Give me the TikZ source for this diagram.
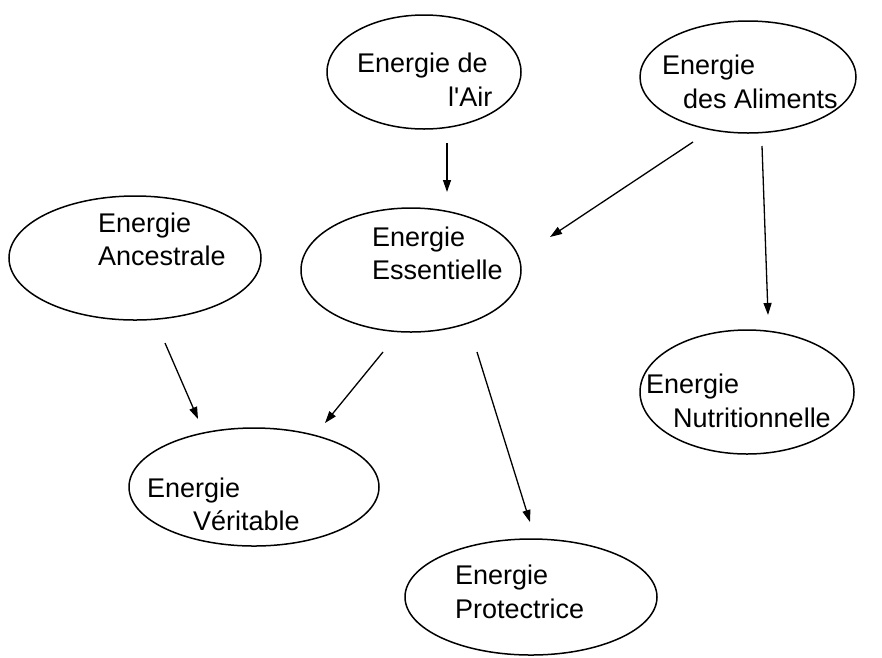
\documentclass[tikz,border=0pt]{standalone}
\usepackage{fontspec}
\setmainfont{Liberation Sans}[Ligatures=TeXOff]
\usetikzlibrary{shapes.geometric,arrows.meta}
\begin{document}
\begin{tikzpicture}[x=1pt,y=-1pt,
  energy/.style={draw,ellipse,line width=1.5pt,inner sep=0pt},
  lbl/.style={anchor=base west,inner sep=0pt,font=\fontsize{27}{33}\selectfont},
  flow/.style={line width=1.3pt,-{Triangle[length=12pt,width=8pt]}}]
\useasboundingbox (0,0) rectangle (882,657);
\fill[white] (0,0) rectangle (882,657);

% ellipses
\node[energy,minimum width=194pt,minimum height=114pt] (air)  at (424,72)  {};
\node[energy,minimum width=216pt,minimum height=112pt] (alim) at (748,77)  {};
\node[energy,minimum width=252pt,minimum height=124pt] (anc)  at (135,258) {};
\node[energy,minimum width=220pt,minimum height=124pt] (ess)  at (411,270) {};
\node[energy,minimum width=214pt,minimum height=124pt] (nutr) at (747,392) {};
\node[energy,minimum width=250pt,minimum height=118pt] (ver)  at (254,487) {};
\node[energy,minimum width=252pt,minimum height=116pt] (prot) at (531,597) {};

% labels
\node[lbl] (air1)  at (357,72)  {Energie de};
\node[lbl] (air2)  at (448,106) {l'Air};
\node[lbl] (alim1) at (662,74)  {Energie};
\node[lbl] (alim2) at (683,108) {des Aliments};
\node[lbl] (anc1)  at (98,232)  {Energie};
\node[lbl] (anc2)  at (98,265)  {Ancestrale};
\node[lbl] (ess1)  at (372,246) {Energie};
\node[lbl] (ess2)  at (372,279) {Essentielle};
\node[lbl] (nutr1) at (646,393) {Energie};
\node[lbl] (nutr2) at (673,427) {Nutritionnelle};
\node[lbl] (ver1)  at (147,497) {Energie};
\node[lbl] (ver2)  at (193,530) {Véritable};
\node[lbl] (prot1) at (455,584) {Energie};
\node[lbl] (prot2) at (455,618) {Protectrice};

% arrow end points
\coordinate (airS)  at (447,143);
\coordinate (essN)  at (447,192);
\coordinate (alimW) at (693,142);
\coordinate (essE)  at (550,237);
\coordinate (alimS) at (762,146);
\coordinate (nutrN) at (768,315);
\coordinate (ancS)  at (165,343);
\coordinate (verNW) at (198,419);
\coordinate (essSW) at (383,352);
\coordinate (verNE) at (325,423);
\coordinate (essSE) at (477,352);
\coordinate (protN) at (530,522);

% connectors
\draw[flow] (airS)  -- (essN);
\draw[flow] (alimW) -- (essE);
\draw[flow] (alimS) -- (nutrN);
\draw[flow] (ancS)  -- (verNW);
\draw[flow] (essSW) -- (verNE);
\draw[flow] (essSE) -- (protN);
\end{tikzpicture}
\end{document}
